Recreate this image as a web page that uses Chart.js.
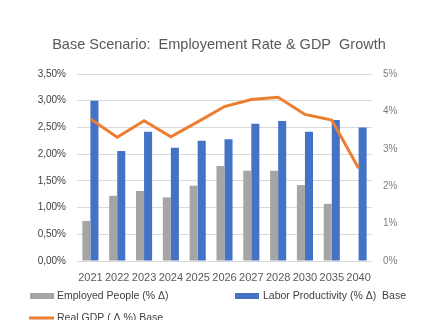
<!DOCTYPE html>
<html>
<head>
<meta charset="utf-8">
<script src="https://cdn.jsdelivr.net/npm/chart.js@4.4.0/dist/chart.umd.min.js"></script>
<style>
  html, body { margin: 0; padding: 0; background: #fff; }
  #wrap { width: 429px; height: 320px; position: relative; }
</style>
</head>
<body>
<div id="wrap"><canvas id="chart" width="429" height="320"></canvas></div>
<script>
// 年（カテゴリ）
const years = ['2021', '2022', '2023', '2024', '2025', '2026', '2027', '2028', '2030', '2035', '2040'];

// 棒グラフ（左軸, %）
const employedPeople = [0.75, 1.22, 1.31, 1.19, 1.41, 1.78, 1.69, 1.69, 1.42, 1.07, null];
const laborProductivity = [3.00, 2.06, 2.42, 2.12, 2.25, 2.28, 2.57, 2.62, 2.42, 2.64, 2.50];

// 折れ線（右軸, %）
const realGdp = [3.80, 3.31, 3.75, 3.32, 3.72, 4.13, 4.32, 4.38, 3.92, 3.77, 2.48];

const titleText = 'Base Scenario:  Employement Rate & GDP  Growth';
const labelEmployed = 'Employed People (% Δ)';
const labelLabor = 'Labor Productivity (% Δ)  Base';
const labelGdp = 'Real GDP ( Δ %) Base';

const FONT = '"Liberation Sans", Arial, sans-serif';

// タイトルと凡例は手描き（Excel風の配置）
const decorPlugin = {
  id: 'decor',
  afterDraw(chart) {
    const ctx = chart.ctx;
    ctx.save();
    ctx.fillStyle = '#595959';
    ctx.font = '14.5px ' + FONT;
    ctx.textAlign = 'center';
    ctx.textBaseline = 'middle';
    ctx.fillText(titleText, 219, 45);

    ctx.font = '10.5px ' + FONT;
    ctx.textAlign = 'left';
    // grey
    ctx.fillStyle = '#A5A5A5';
    ctx.fillRect(30, 293, 24, 6);
    ctx.fillStyle = '#404040';
    ctx.fillText(labelEmployed, 57, 296);
    // blue
    ctx.fillStyle = '#4472C4';
    ctx.fillRect(235, 293, 24, 6);
    ctx.fillStyle = '#404040';
    ctx.fillText(labelLabor, 263, 296);
    // orange line
    ctx.strokeStyle = '#ED7D31';
    ctx.lineWidth = 3;
    ctx.beginPath();
    ctx.moveTo(29, 318);
    ctx.lineTo(54, 318);
    ctx.stroke();
    ctx.fillText(labelGdp, 57, 318);
    ctx.restore();
  }
};

const ctx = document.getElementById('chart').getContext('2d');
new Chart(ctx, {
  type: 'bar',
  data: {
    labels: years,
    datasets: [
      {
        type: 'line',
        label: labelGdp,
        data: realGdp,
        yAxisID: 'y1',
        borderColor: '#ED7D31',
        borderWidth: 3,
        pointRadius: 0,
        tension: 0,
        order: 0
      },
      {
        label: labelEmployed,
        data: employedPeople,
        backgroundColor: '#A5A5A5',
        yAxisID: 'y',
        order: 1,
        categoryPercentage: 0.6,
        barPercentage: 1.0
      },
      {
        label: labelLabor,
        data: laborProductivity,
        backgroundColor: '#4472C4',
        yAxisID: 'y',
        order: 1,
        categoryPercentage: 0.6,
        barPercentage: 1.0
      }
    ]
  },
  options: {
    responsive: false,
    animation: false,
    layout: { padding: { top: 74, left: 0, right: 0, bottom: 34 } },
    plugins: {
      legend: { display: false },
      title: { display: false },
      tooltip: { enabled: false }
    },
    scales: {
      x: {
        grid: { display: false, drawTicks: false },
        border: { display: false },
        ticks: { color: '#595959', font: { family: FONT, size: 11 }, padding: 10, maxRotation: 0, autoSkip: false },
        afterFit(scale) { scale.height = 25; }
      },
      y: {
        position: 'left',
        min: 0,
        max: 3.5,
        grid: { color: '#D9D9D9', drawTicks: false },
        border: { display: false },
        ticks: {
          stepSize: 0.5,
          padding: 11,
          color: '#404040',
          font: { family: FONT, size: 10 },
          callback: (v) => v.toFixed(2).replace('.', ',') + '%'
        },
        afterFit(scale) { scale.width = 77; }
      },
      y1: {
        position: 'right',
        min: 0,
        max: 5,
        grid: { display: false, drawTicks: false },
        border: { display: false },
        ticks: {
          stepSize: 1,
          padding: 11,
          color: '#7F7F7F',
          font: { family: FONT, size: 10 },
          callback: (v) => v + '%'
        },
        afterFit(scale) { scale.width = 57; }
      }
    }
  },
  plugins: [decorPlugin]
});
</script>
</body>
</html>
